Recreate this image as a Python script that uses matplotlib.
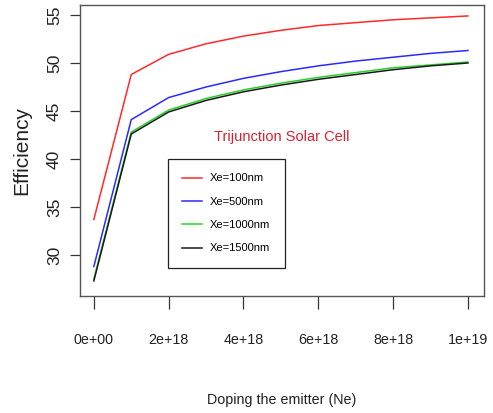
import matplotlib
matplotlib.use("Agg")
import matplotlib.pyplot as plt

doping = [0, 1e18, 2e18, 3e18, 4e18, 5e18, 6e18, 7e18, 8e18, 9e18, 1e19]
eff_100 = [33.7, 48.8, 50.9, 52.0, 52.8, 53.4, 53.9, 54.2, 54.5, 54.7, 54.9]
eff_500 = [28.8, 44.1, 46.4, 47.5, 48.4, 49.1, 49.7, 50.2, 50.6, 51.0, 51.3]
eff_1000 = [27.5, 42.8, 45.1, 46.3, 47.2, 47.9, 48.5, 49.0, 49.5, 49.8, 50.1]
eff_1500 = [27.3, 42.6, 44.9, 46.1, 47.0, 47.7, 48.3, 48.8, 49.3, 49.7, 50.0]
labels = ["Xe=100nm", "Xe=500nm", "Xe=1000nm", "Xe=1500nm"]
colors = ["#ff2a2a", "#2a2aff", "#2ad02a", "#1a1a1a"]
xticks = [0, 2e18, 4e18, 6e18, 8e18, 1e19]
xticklabels = ["0e+00", "2e+18", "4e+18", "6e+18", "8e+18", "1e+19"]
yticks = [30, 35, 40, 45, 50, 55]

plt.rcParams["font.family"] = ["Liberation Sans", "DejaVu Sans"]

fig = plt.figure(figsize=(4.93, 4.13), dpi=100)
ax = fig.add_axes([80/493, 1-296/413, 404/493, 291/413])

series = [eff_100, eff_500, eff_1000, eff_1500]
for ys, lab, c in zip(series, labels, colors):
    ax.plot(doping, ys, color=c, lw=1.1, label=lab)

ax.set_xlim(-0.37e18, 1.043e19)
ax.set_ylim(25.73, 56.04)
ax.set_xticks(xticks)
ax.set_xticklabels(xticklabels, fontsize=10.3)
ax.set_yticks(yticks)
ax.set_yticklabels([str(v) for v in yticks], rotation=90, va="center", fontsize=12.5)
ax.tick_params(axis="x", length=9.5, width=0.9, color="#333333", pad=17, labelcolor="#222222")
ax.tick_params(axis="y", length=7.5, width=0.9, color="#333333", pad=5.5, labelcolor="#222222")
for s in ax.spines.values():
    s.set_color("#555555")
    s.set_linewidth(1.0)

ax.set_xlabel("Doping the emitter (Ne)", fontsize=10.3, labelpad=33, color="#222222")
ax.set_ylabel("Efficiency", fontsize=15, labelpad=11, color="#222222")

ax.text((282-80)/404, (296-137)/291, "Trijunction Solar Cell", transform=ax.transAxes,
        color="#d82030", fontsize=10.5, ha="center", va="center")

leg = ax.legend(loc="upper left", bbox_to_anchor=((168-80)/404, (296-159)/291),
                borderaxespad=0, fancybox=False, framealpha=1, edgecolor="#222222",
                prop={"size": 8}, handlelength=1.8, handletextpad=0.7,
                labelspacing=1.2, borderpad=1.3)
leg.get_frame().set_linewidth(0.9)

fig.savefig("out.png", dpi=100)
